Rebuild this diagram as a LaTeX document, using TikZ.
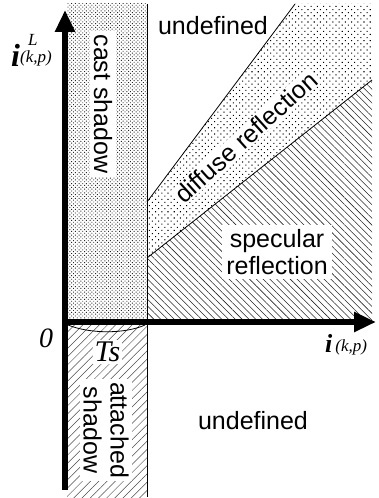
\documentclass[tikz,border=0pt]{standalone}
\usepackage{fontspec}
\setmainfont{Liberation Serif}
\setsansfont{Liberation Sans}
\usepackage{tikz}
\usetikzlibrary{arrows.meta,patterns.meta}

\begin{document}
\begin{tikzpicture}[
  x=1pt,y=1pt,
  every node/.style={inner sep=4pt},
  lbl/.style={font=\sffamily\fontsize{25}{27}\selectfont,align=center},
  boxed/.style={lbl,fill=white},
  num/.style={font=\itshape\fontsize{28}{28}\selectfont,inner sep=2pt},
  bound/.style={line width=0.8pt},
  axis/.style={line width=6pt,-{Triangle[length=22pt,width=19pt]}},
  castdots/.style={pattern={Dots[angle=45,distance=2.6pt,radius=0.65pt]},pattern color=black!85},
  diffdots/.style={pattern={Dots[angle=45,distance=4.4pt,radius=0.75pt]},pattern color=black},
  spechatch/.style={pattern={Lines[angle=-45,distance=4.8pt,line width=0.55pt]},pattern color=black!85},
  atthatch/.style={pattern={Lines[angle=45,distance=5.8pt,line width=0.5pt]},pattern color=black!70}
]
\useasboundingbox (0,0) rectangle (378,498);

\coordinate (origin) at (62,176);
\coordinate (ybot) at (65,8);
\coordinate (ytop) at (65,488);
\coordinate (xtip) at (376,176);
\coordinate (hiA) at (147,296);
\coordinate (hiB) at (295,494);
\coordinate (loA) at (147,240);
\coordinate (loB) at (372,418);

\fill[castdots] (67,178) rectangle (147,494);
\fill[atthatch] (67,0) rectangle (147,174);
\fill[diffdots] (hiA) -- (hiB) -- (372,494) -- (loB) -- (loA) -- cycle;
\fill[spechatch] (loA) -- (loB) -- (372,178) -- (147,178) -- cycle;

\node[lbl] (undefA) at (213,472) {undefined};
\node[lbl] (undefB) at (253,77) {undefined};
\node[boxed,rotate=-90] (cast) at (103,394) {cast shadow};
\node[lbl,fill=white,inner sep=1pt,rotate=42] (diffuse) at (246,361) {diffuse reflection};
\node[boxed] (spec) at (277,246) {specular\\reflection};
\node[boxed,rotate=-90,inner sep=3pt] (attached) at (106,68) {attached\\shadow};
\node[num,fill=white,font=\itshape\fontsize{30}{30}\selectfont] (ts) at (107.5,146) {Ts};
\node[num] (zero) at (46,160) {0};
\node[anchor=base west,inner sep=0pt] (ylab) at (11,431) {{\fontsize{32}{32}\selectfont\bfseries\itshape i}{\fontsize{17}{17}\selectfont\itshape\rlap{\hspace{8pt}\raisebox{21pt}{L}}\raisebox{4pt}{(k,p)}}};
\node[anchor=base west,inner sep=0pt] (xlab) at (325,145) {{\fontsize{26}{26}\selectfont\bfseries\itshape i}\hspace{3pt}{\fontsize{17}{17}\selectfont\itshape\raisebox{1pt}{(k,p)}}};

\draw[bound] (147,494) -- (147,1);
\draw[bound] (hiA) -- (hiB);
\draw[bound] (loA) -- (loB);
\draw[bound] (68,173) .. controls (90,164) and (125,164) .. (145,173);

\draw[axis] (ybot) -- (ytop);
\draw[axis] (origin) -- (xtip);
\end{tikzpicture}
\end{document}
